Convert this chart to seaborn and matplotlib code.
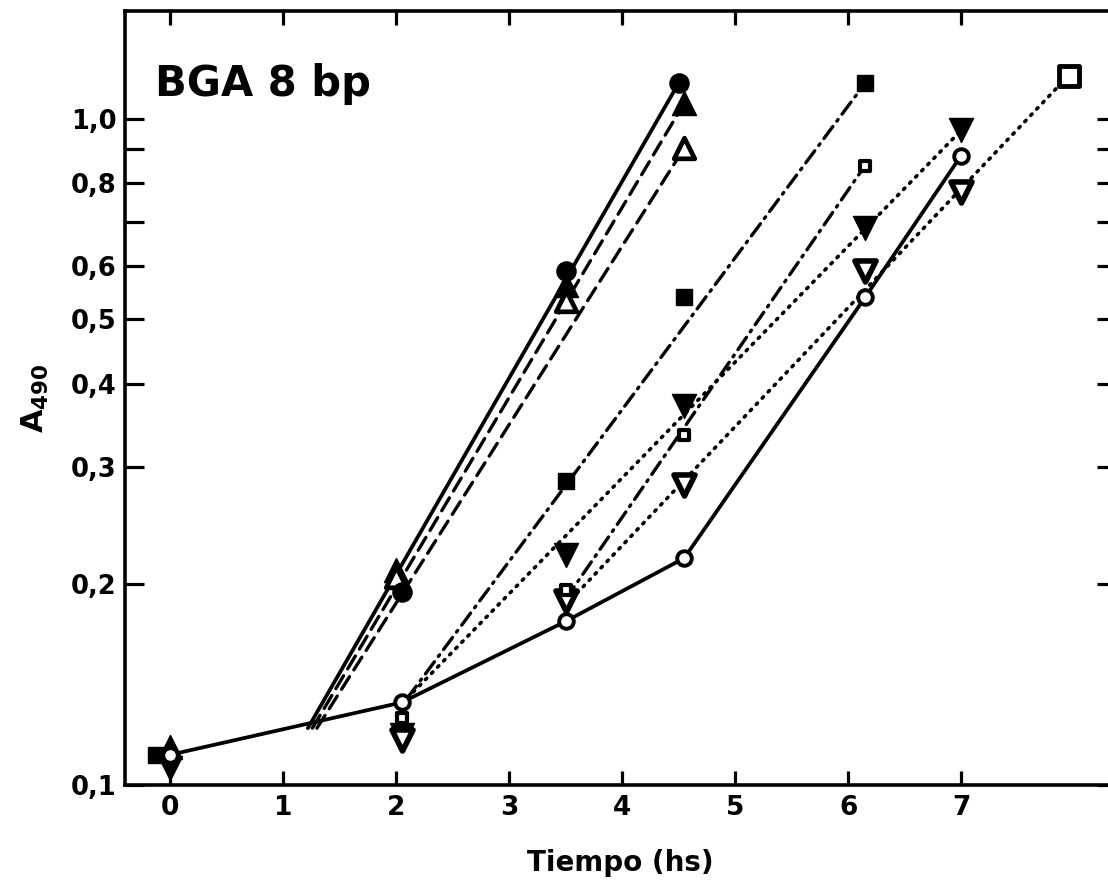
import matplotlib
matplotlib.use("Agg")
import matplotlib.pyplot as plt
import seaborn as sns

# time (h) and A490, one pair of lists per symbol
t_open_circ = [0.0, 2.05, 3.5, 4.55, 6.15, 7.0]
a_open_circ = [0.111, 0.133, 0.176, 0.219, 0.539, 0.88]
t_fill_circ = [2.05, 3.5, 4.5]
a_fill_circ = [0.195, 0.59, 1.13]
t_fill_up = [0.0, 2.0, 3.5, 4.55]
a_fill_up = [0.114, 0.21, 0.562, 1.055]
t_open_up = [2.0, 3.5, 4.55]
a_open_up = [0.205, 0.533, 0.903]
t_fill_sq = [-0.12, 3.5, 4.55, 6.15]
a_fill_sq = [0.111, 0.286, 0.539, 1.13]
t_open_sq = [2.05, 3.5, 4.55, 6.15]
a_open_sq = [0.126, 0.196, 0.335, 0.85]
t_fill_dn = [0.0, 2.05, 3.5, 4.55, 6.15, 7.0]
a_fill_dn = [0.106, 0.119, 0.221, 0.371, 0.684, 0.96]
t_open_dn = [2.05, 3.5, 4.55, 6.15, 7.0]
a_open_dn = [0.117, 0.189, 0.282, 0.591, 0.775]
t_big_sq = [7.95]
a_big_sq = [1.16]

# straight lines drawn through the points (start, end)
fit_fill_circ = ([1.22, 4.5], [0.1217, 1.13])
fit_fill_up = ([1.26, 4.55], [0.1217, 1.055])
fit_open_up = ([1.3, 4.55], [0.1217, 0.903])
fit_fill_sq = ([2.1, 6.15], [0.135, 1.13])
fit_open_sq = ([3.5, 6.15], [0.19, 0.85])
fit_fill_dn = ([2.1, 7.0], [0.135, 0.96])
fit_open_dn = ([3.55, 7.95], [0.19, 1.16])

y_ticks = [0.1, 0.2, 0.3, 0.4, 0.5, 0.6, 0.7, 0.8, 0.9, 1.0]
y_labels = ["0,1", "0,2", "0,3", "0,4", "0,5", "0,6", "", "0,8", "", "1,0"]
x_ticks = [0, 1, 2, 3, 4, 5, 6, 7]

sns.set_style("ticks")
plt.rcParams["font.family"] = ["DejaVu Sans"]
plt.rcParams["font.weight"] = "bold"
plt.rcParams["lines.solid_capstyle"] = "round"
plt.rcParams["lines.dash_capstyle"] = "round"
for key in ["text.color", "axes.labelcolor", "xtick.color", "ytick.color", "axes.edgecolor"]:
    plt.rcParams[key] = "black"

fig = plt.figure(figsize=(11.08, 8.8), dpi=100)
ax = fig.add_axes([125 / 1108, 95 / 880, (1116 - 125) / 1108, (785 - 11) / 880])
ax.set_yscale("log")

dashed = (4.5, 2.4)
dashdot = (4.5, 2.0, 0.6, 2.0)
dotted = (0.5, 1.9)

# lines
sns.lineplot(x=t_open_circ, y=a_open_circ, ax=ax, color="k", lw=2.7, zorder=2)
sns.lineplot(x=fit_fill_circ[0], y=fit_fill_circ[1], ax=ax, color="k", lw=2.7, zorder=2)
sns.lineplot(x=fit_fill_up[0], y=fit_fill_up[1], ax=ax, color="k", lw=2.4,
             dashes=dashed, zorder=2)
sns.lineplot(x=fit_open_up[0], y=fit_open_up[1], ax=ax, color="k", lw=2.4,
             dashes=dashed, zorder=2)
sns.lineplot(x=fit_fill_sq[0], y=fit_fill_sq[1], ax=ax, color="k", lw=2.4,
             dashes=dashdot, zorder=2)
sns.lineplot(x=fit_open_sq[0], y=fit_open_sq[1], ax=ax, color="k", lw=2.4,
             dashes=dashdot, zorder=2)
sns.lineplot(x=fit_fill_dn[0], y=fit_fill_dn[1], ax=ax, color="k", lw=2.6,
             dashes=dotted, zorder=2)
sns.lineplot(x=fit_open_dn[0], y=fit_open_dn[1], ax=ax, color="k", lw=2.6,
             dashes=dotted, zorder=2)

# markers
open_kw = dict(facecolor="white", edgecolor="black", zorder=4)
fill_kw = dict(color="black", edgecolor="black", zorder=4)
sns.scatterplot(x=t_fill_sq, y=a_fill_sq, ax=ax, marker="s", s=130, linewidth=1, **fill_kw)
sns.scatterplot(x=t_fill_dn, y=a_fill_dn, ax=ax, marker="v", s=300, linewidth=1, **fill_kw)
sns.scatterplot(x=t_open_dn, y=a_open_dn, ax=ax, marker="v", s=230, linewidth=4, **open_kw)
sns.scatterplot(x=t_fill_up, y=a_fill_up, ax=ax, marker="^", s=300, linewidth=1, **fill_kw)
sns.scatterplot(x=t_open_up, y=a_open_up, ax=ax, marker="^", s=220, linewidth=3.4, **open_kw)
sns.scatterplot(x=t_open_sq, y=a_open_sq, ax=ax, marker="s", s=60, linewidth=3, **open_kw)
sns.scatterplot(x=t_fill_circ, y=a_fill_circ, ax=ax, marker="o", s=190, linewidth=1, **fill_kw)
sns.scatterplot(x=t_open_circ, y=a_open_circ, ax=ax, marker="o", s=110, linewidth=2.8, **open_kw)
sns.scatterplot(x=t_big_sq, y=a_big_sq, ax=ax, marker="s", s=190, linewidth=3.5, **open_kw)

ax.set_xlim(-0.398, 8.37)
ax.set_ylim(0.1, 1.45)
ax.set_xticks(x_ticks)
ax.set_xticklabels([str(v) for v in x_ticks])
ax.set_yticks(y_ticks)
ax.set_yticklabels(y_labels)
ax.yaxis.set_minor_locator(matplotlib.ticker.NullLocator())
ax.xaxis.set_minor_locator(matplotlib.ticker.NullLocator())

for side in ["left", "right", "top", "bottom"]:
    ax.spines[side].set_visible(True)
    ax.spines[side].set_linewidth(2.6)
ax.tick_params(axis="x", which="major", direction="in", length=10, width=2.3,
               top=True, labelsize=19, pad=7)
ax.tick_params(axis="y", which="major", direction="in", length=14, width=2.3,
               right=True, labelsize=18.5, pad=6)

ax.set_xlabel("Tiempo (hs)", fontsize=20, fontweight="bold", labelpad=20)
ax.set_ylabel(r"A$_{\mathbf{490}}$", fontsize=22, fontweight="bold", labelpad=14)
ax.text(0.030, 0.89, "BGA 8 bp", transform=ax.transAxes, fontsize=30,
        fontweight="bold", va="baseline", ha="left")

fig.savefig("out.png", dpi=100)
